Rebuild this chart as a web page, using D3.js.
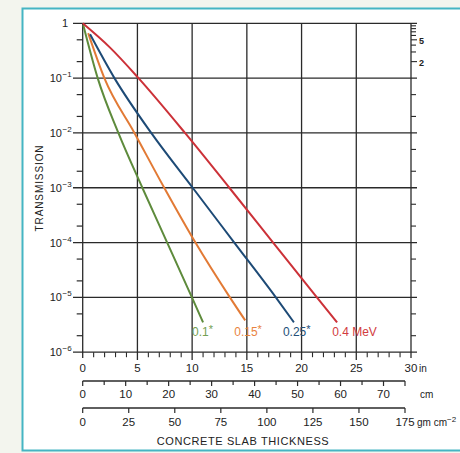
<!DOCTYPE html>
<html>
<head>
<meta charset="utf-8">
<script src="https://cdn.jsdelivr.net/npm/d3@7"></script>
<style>
  body { margin: 0; background: #f3f5ee; }
  svg { display: block; }
  text { font-family: "Liberation Sans", Arial, sans-serif; fill: #222; }
</style>
</head>
<body>
<div id="chart"></div>
<script>
// thickness in inches, transmission (fraction)
var energyLabels = ["0.1", "0.15", "0.25", "0.4 MeV"];
var thick01 = [0.05, 1.37, 3.26, 5.45, 7.72, 9.98, 11.0];
var trans01 = [0.93, 1e-1, 1e-2, 1e-3, 1e-4, 1e-5, 3.5e-6];
var thick015 = [0.5, 1.98, 4.73, 7.45, 10.3, 13.45, 14.85];
var trans015 = [0.66, 1e-1, 1e-2, 1e-3, 1e-4, 1e-5, 3.8e-6];
var thick025 = [0.67, 2.9, 6.26, 10.05, 13.85, 17.65, 19.3];
var trans025 = [0.63, 1e-1, 1e-2, 1e-3, 1e-4, 1e-5, 3.5e-6];
var thick04 = [0, 2.5, 5.1, 9.35, 13.4, 17.4, 21.4, 23.25];
var trans04 = [1, 0.36, 1e-1, 1e-2, 1e-3, 1e-4, 1e-5, 3.5e-6];

var inchTicks = [0, 5, 10, 15, 20, 25, 30];
var cmTicks = [0, 10, 20, 30, 40, 50, 60, 70];
var gmTicks = [0, 25, 50, 75, 100, 125, 150, 175];
var decades = [0, -1, -2, -3, -4, -5, -6];

var series = [
    { label: energyLabels[0], star: true, x: thick01, y: trans01, color: "#5e8b3c", textColor: "#74a052" },
    { label: energyLabels[1], star: true, x: thick015, y: trans015, color: "#e27a35", textColor: "#e9843f" },
    { label: energyLabels[2], star: true, x: thick025, y: trans025, color: "#1d4a76", textColor: "#244f78" },
    { label: energyLabels[3], star: false, x: thick04, y: trans04, color: "#cc3138", textColor: "#d23c40" }
];

var width = 460, height = 453;
var svg = d3.select("#chart").append("svg")
    .attr("width", width)
    .attr("height", height);

// frame
svg.append("rect")
    .attr("x", 22.5).attr("y", 8.5)
    .attr("width", 460).attr("height", 442)
    .attr("fill", "#fff")
    .attr("stroke", "#45b5c3")
    .attr("stroke-width", 2);

var x = d3.scaleLinear().domain([0, 30]).range([82.7, 411]);
var y = d3.scaleLog().domain([1e-6, 1]).range([352.2, 23.3]);
var cm = d3.scaleLinear().domain([0, 75]).range([82.7, 405]);
var gm = d3.scaleLinear().domain([0, 175]).range([82.7, 405]);

var gridColor = "#2a2a2a";
var grid = svg.append("g").attr("stroke", gridColor).attr("fill", "none");

// horizontal decade lines
grid.selectAll("line.h")
    .data(decades)
    .enter().append("line")
    .attr("x1", 73).attr("x2", 417)
    .attr("y1", d => y(Math.pow(10, d)))
    .attr("y2", d => y(Math.pow(10, d)))
    .attr("stroke-width", 1.3);

// vertical lines at 5 in steps
grid.selectAll("line.v")
    .data(inchTicks)
    .enter().append("line")
    .attr("x1", d => x(d)).attr("x2", d => x(d))
    .attr("y1", y(1)).attr("y2", d => (d == 0 || d == 30) ? 358 : 360)
    .attr("stroke-width", 1.3);

// minor ticks on the inch axis
grid.selectAll("line.mi")
    .data(d3.range(0, 31).filter(d => d % 5 != 0))
    .enter().append("line")
    .attr("x1", d => x(d)).attr("x2", d => x(d))
    .attr("y1", y(1e-6)).attr("y2", y(1e-6) + 5)
    .attr("stroke-width", 1.1);

// log side ticks, 2 and 5 in each decade
var sideTicks = [];
decades.slice(1).forEach(d => {
    sideTicks.push(5 * Math.pow(10, d));
    sideTicks.push(2 * Math.pow(10, d));
});
grid.selectAll("line.lt")
    .data(sideTicks)
    .enter().append("line")
    .attr("x1", x(0) - 6).attr("x2", x(0))
    .attr("y1", d => y(d)).attr("y2", d => y(d))
    .attr("stroke-width", 1.2);
var rightTicks = sideTicks.filter(d => d < 0.1).concat([0.2, 0.3, 0.4, 0.5, 0.6, 0.7, 0.8, 0.9]);
grid.selectAll("line.rt")
    .data(rightTicks)
    .enter().append("line")
    .attr("x1", x(30)).attr("x2", d => (d == 0.2 || d == 0.5) ? x(30) + 6 : x(30) + 5)
    .attr("y1", d => y(d)).attr("y2", d => y(d))
    .attr("stroke-width", 1.1);

svg.append("text").attr("x", x(30) + 8).attr("y", y(0.5) + 4)
    .attr("font-size", 9).attr("font-weight", "bold").text("5");
svg.append("text").attr("x", x(30) + 8).attr("y", y(0.2) + 4)
    .attr("font-size", 9).attr("font-weight", "bold").text("2");

// y labels
decades.forEach(d => {
    var t = svg.append("text")
        .attr("x", d == 0 ? 68 : 62)
        .attr("y", y(Math.pow(10, d)) + 4)
        .attr("text-anchor", "end")
        .attr("font-size", 11);
    if (d == 0) {
        t.text("1");
    } else {
        t.text("10");
        svg.append("text")
            .attr("x", 62.5)
            .attr("y", y(Math.pow(10, d)) - 1)
            .attr("font-size", 8)
            .text("\u2212" + (-d));
    }
});

svg.append("text")
    .attr("transform", "translate(43,188) rotate(-90)")
    .attr("text-anchor", "middle")
    .attr("font-size", 10)
    .attr("letter-spacing", 0.9)
    .text("TRANSMISSION");

// inch axis labels
svg.selectAll("text.in")
    .data(inchTicks)
    .enter().append("text")
    .attr("x", d => x(d))
    .attr("y", 372)
    .attr("text-anchor", "middle")
    .attr("font-size", 11.5)
    .text(d => d);
svg.append("text").attr("x", 419).attr("y", 372).attr("font-size", 10).text("in");

// cm axis
var cmAxis = svg.append("g").attr("stroke", gridColor);
cmAxis.append("line")
    .attr("x1", cm(0)).attr("x2", cm(75))
    .attr("y1", 381).attr("y2", 381)
    .attr("stroke-width", 1.3);
cmAxis.selectAll("line.t")
    .data(d3.range(0, 76, 5))
    .enter().append("line")
    .attr("x1", d => cm(d)).attr("x2", d => cm(d))
    .attr("y1", 381).attr("y2", d => d % 10 == 0 || d == 75 ? 386 : 385)
    .attr("stroke-width", 1.2);
svg.selectAll("text.cm")
    .data(cmTicks)
    .enter().append("text")
    .attr("x", d => cm(d))
    .attr("y", 398)
    .attr("text-anchor", "middle")
    .attr("font-size", 11.5)
    .text(d => d);
svg.append("text").attr("x", 420).attr("y", 398).attr("font-size", 10).text("cm");

// gm cm-2 axis
var gmAxis = svg.append("g").attr("stroke", gridColor);
gmAxis.append("line")
    .attr("x1", gm(0)).attr("x2", gm(175))
    .attr("y1", 408).attr("y2", 408)
    .attr("stroke-width", 1.3);
gmAxis.selectAll("line.t")
    .data(gmTicks)
    .enter().append("line")
    .attr("x1", d => gm(d)).attr("x2", d => gm(d))
    .attr("y1", 408).attr("y2", 413)
    .attr("stroke-width", 1.2);
svg.selectAll("text.gm")
    .data(gmTicks)
    .enter().append("text")
    .attr("x", d => gm(d))
    .attr("y", 426)
    .attr("text-anchor", "middle")
    .attr("font-size", 11.5)
    .text(d => d);
var gmUnit = svg.append("text").attr("x", 417).attr("y", 426).attr("font-size", 10);
gmUnit.append("tspan").text("gm cm");
gmUnit.append("tspan").attr("dy", -4).attr("font-size", 8).text("\u22122");

svg.append("text")
    .attr("x", 243).attr("y", 445)
    .attr("text-anchor", "middle")
    .attr("font-size", 11)
    .attr("letter-spacing", 0.6)
    .text("CONCRETE SLAB THICKNESS");

// curves
var line = d3.line()
    .x(d => x(d[0]))
    .y(d => y(d[1]))
    .curve(d3.curveMonotoneX);

svg.selectAll("path.curve")
    .data(series)
    .enter().append("path")
    .attr("d", s => line(d3.zip(s.x, s.y)))
    .attr("fill", "none")
    .attr("stroke", s => s.color)
    .attr("stroke-width", 2);

// energy labels under the line ends
series.forEach(s => {
    var xe = x(s.x[s.x.length - 1]);
    var t = svg.append("text")
        .attr("x", s.star ? xe - 11 : xe - 5)
        .attr("y", 336)
        .attr("font-size", 12)
        .style("fill", s.textColor);
    t.append("tspan").text(s.label);
    if (s.star) {
        t.append("tspan").attr("dy", -3).attr("font-size", 11).text("*");
    }
});
</script>
</body>
</html>
